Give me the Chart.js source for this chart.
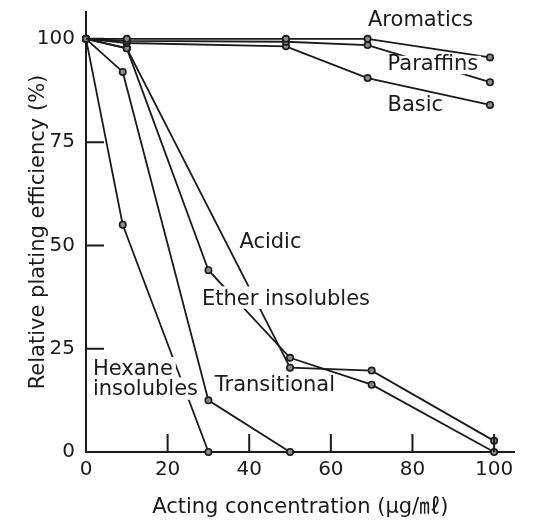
<!DOCTYPE html>
<html>
<head>
<meta charset="utf-8">
<script src="https://cdn.jsdelivr.net/npm/chart.js@4"></script>
<style>
  html, body { margin: 0; padding: 0; background: #fff; }
  canvas { display: block; }
</style>
</head>
<body>
<canvas id="platingChart" width="534" height="521"></canvas>
<script>
// acting concentration (ug/ml) for each group of curves
const doseTop = [0, 10, 49, 69, 99];
const doseMid = [0, 10, 30, 50, 70, 100];
const doseLow = [0, 9, 30, 50];

// relative plating efficiency (%)
const aromatics = [100, 100, 100, 100, 95.5];
const paraffins = [100, 99.5, 99.3, 98.5, 89.5];
const basic = [100, 99, 98.2, 90.5, 84];
const acidic = [100, 97.7, null, 20.4, 19.7, 2.7];
const etherInsol = [100, 97.7, 44, 22.8, 16.3, 0];
const hexaneInsol = [100, 55, 0, null];
const transitional = [100, 92, 12.5, 0];

const xTicks = [0, 20, 40, 60, 80, 100];
const yTicks = [0, 25, 50, 75, 100];

// curve names written next to the lines (data coords)
// mask = [top, bottom] padding of the white box that breaks the line under the text
const curveLabels = [
  { text: 'Aromatics', x: 82, y: 104.4, align: 'center', mask: null },
  { text: 'Paraffins', x: 85, y: 93.8, align: 'center', mask: [1, 2] },
  { text: 'Basic', x: 80.7, y: 83.9, align: 'center', mask: null },
  { text: 'Acidic', x: 45.2, y: 50.7, align: 'center', mask: null },
  { text: 'Ether insolubles', x: 49, y: 37, align: 'center', mask: [5, 2] },
  { text: 'Hexane', x: 1.7, y: 19.9, align: 'left', mask: [5, 2] },
  { text: 'insolubles', x: 1.7, y: 15.0, align: 'left', mask: [5, 2] },
  { text: 'Transitional', x: 46.3, y: 16.2, align: 'center', mask: null }
];

const ink = '#1a1a1a';
Chart.defaults.font.family = '"DejaVu Sans", "Noto Sans CJK JP", sans-serif';
Chart.defaults.color = ink;

function toPoints(xs, ys) {
  return xs.map((x, i) => ({ x: x, y: ys[i] })).filter(p => p.y !== null);
}

function series(label, xs, ys) {
  return {
    label: label,
    data: toPoints(xs, ys),
    showLine: true,
    borderColor: ink,
    borderWidth: 1.8,
    tension: 0,
    pointRadius: 3.2,
    pointBorderWidth: 1.6,
    pointBorderColor: ink,
    pointBackgroundColor: '#8a8a8a',
    clip: false
  };
}

const curveLabelPlugin = {
  id: 'curveLabels',
  afterDatasetsDraw(chart) {
    const { ctx, scales: { x, y } } = chart;
    ctx.save();
    ctx.font = '21px "DejaVu Sans"';
    ctx.textBaseline = 'middle';
    ctx.textAlign = 'left';
    curveLabels.forEach(l => {
      const px = x.getPixelForValue(l.x);
      const py = y.getPixelForValue(l.y);
      const w = ctx.measureText(l.text).width;
      const left = l.align === 'left' ? px : px - w / 2;
      if (l.mask) {
        const top = py - 7.7 - l.mask[0];
        const bottom = py + 7.7 + l.mask[1];
        ctx.fillStyle = '#fff';
        ctx.fillRect(left - 3, top, w + 6, bottom - top);
      }
      ctx.fillStyle = ink;
      ctx.fillText(l.text, left, py);
    });
    ctx.restore();
  }
};

// short tick marks pointing into the plot
const innerTickPlugin = {
  id: 'innerTicks',
  afterDraw(chart) {
    const { ctx, chartArea, scales: { x, y } } = chart;
    ctx.save();
    ctx.strokeStyle = ink;
    ctx.lineWidth = 2;
    ctx.beginPath();
    xTicks.filter(v => v > 0).forEach(v => {
      const px = x.getPixelForValue(v);
      ctx.moveTo(px, chartArea.bottom);
      ctx.lineTo(px, chartArea.bottom - 18);
    });
    yTicks.filter(v => v > 0).forEach(v => {
      const py = y.getPixelForValue(v);
      ctx.moveTo(chartArea.left, py);
      ctx.lineTo(chartArea.left + 18, py);
    });
    ctx.stroke();
    ctx.restore();
  }
};

new Chart(document.getElementById('platingChart'), {
  type: 'scatter',
  data: {
    datasets: [
      series('Aromatics', doseTop, aromatics),
      series('Paraffins', doseTop, paraffins),
      series('Basic', doseTop, basic),
      series('Acidic', doseMid, acidic),
      series('Ether insolubles', doseMid, etherInsol),
      series('Hexane insolubles', doseLow, hexaneInsol),
      series('Transitional', doseLow, transitional)
    ]
  },
  options: {
    responsive: false,
    animation: false,
    devicePixelRatio: 1,
    layout: { padding: { left: 0, top: 12, right: 19.5, bottom: 0 } },
    plugins: { legend: { display: false }, tooltip: { enabled: false } },
    scales: {
      x: {
        type: 'linear',
        min: 0,
        max: 105,
        afterBuildTicks: s => { s.ticks = xTicks.map(v => ({ value: v })); },
        afterFit: s => { s.height = 69; s.paddingLeft = 0; s.paddingRight = 0; },
        grid: { display: false, drawTicks: false },
        border: { display: true, color: ink, width: 2 },
        ticks: { autoSkip: false, maxRotation: 0, padding: 6, font: { size: 20 }, color: ink },
        title: {
          display: true,
          text: 'Acting concentration (μg/㎖)',
          font: { size: 21 },
          color: ink,
          padding: { top: 0, bottom: 1 }
        }
      },
      y: {
        type: 'linear',
        min: 0,
        max: 106.5,
        afterBuildTicks: s => { s.ticks = yTicks.map(v => ({ value: v })); },
        afterFit: s => { s.width = 86; s.paddingTop = 0; s.paddingBottom = 0; },
        grid: { display: false, drawTicks: false },
        border: { display: true, color: ink, width: 2 },
        ticks: { padding: 11, font: { size: 20 }, color: ink },
        title: {
          display: true,
          text: 'Relative plating efficiency (%)',
          font: { size: 21 },
          color: ink,
          padding: { top: 26, bottom: 0 }
        }
      }
    }
  },
  plugins: [curveLabelPlugin, innerTickPlugin]
});
</script>
</body>
</html>
